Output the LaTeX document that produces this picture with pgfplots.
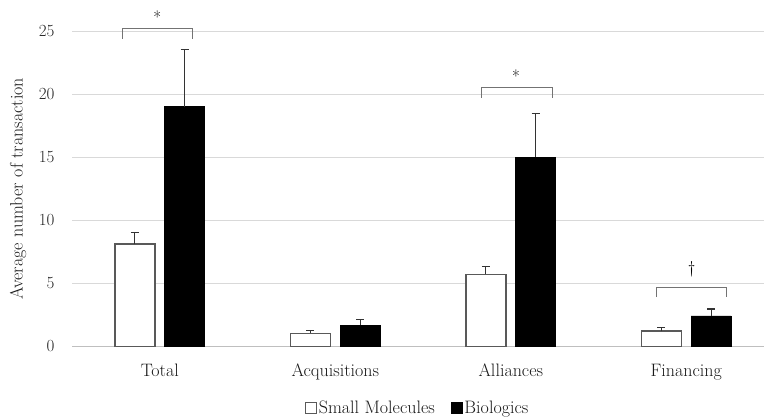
\documentclass[border=0pt]{standalone}
\usepackage{pgfplots}
\pgfplotsset{compat=1.18}
\begin{document}
\begin{tikzpicture}
\begin{axis}[
  scale only axis, width=691pt, height=315pt,
  xmin=-0.5, xmax=3.44, ymin=0, ymax=25,
  axis x line*=bottom, axis y line*=left,
  x axis line style={draw=black!25, line width=1pt, -},
  y axis line style={draw=none},
  ymajorgrids, grid style={black!15, line width=1pt},
  major tick length=0pt,
  ytick={0,5,10,15,20,25},
  xtick={0,1,2,3},
  xticklabels={Total,Acquisitions,Alliances,Financing},
  yticklabel style={font=\fontsize{17}{20}\selectfont, text=black!85, xshift=-14pt},
  xticklabel style={font=\fontsize{18}{21}\selectfont, text=black!90, yshift=-14pt},
  /pgf/number format/assume math mode=true,
  ylabel={Average number of transaction},
  every axis y label/.style={at={(axis description cs:0,0.5)}, xshift=-54pt, rotate=90, anchor=center},
  ylabel style={font=\fontsize{18}{21}\selectfont, text=black!90},
  clip=false,
  bar width=0.228,
  legend style={at={(0.5,-0.16)}, anchor=north, draw=none, font=\fontsize{18}{21}\selectfont, text=black!90, legend columns=2, /tikz/every even column/.append style={column sep=14pt}},
  legend image code/.code={\draw[#1, line width=0.6pt] (2pt,-5pt) rectangle (13pt,6pt);},
]
\addplot[ybar, bar shift=0pt, fill=white, draw=black!65, line width=1.3pt,
  error bars/.cd, y dir=plus, y explicit, error bar style={black!80, line width=1.1pt},
  error mark options={rotate=90, mark size=4pt, black!80, line width=1.1pt}]
  coordinates {(-0.142,8.1) +- (0,0.9) (0.858,1.03) +- (0,0.2) (1.858,5.7) +- (0,0.65) (2.858,1.2) +- (0,0.3)};
\addlegendentry{Small Molecules}
\addplot[ybar, bar shift=0pt, fill=black, draw=black, line width=0.5pt,
  error bars/.cd, y dir=plus, y explicit, error bar style={black!80, line width=1.1pt},
  error mark options={rotate=90, mark size=4pt, black!80, line width=1.1pt}]
  coordinates {(0.142,19.0) +- (0,4.5) (1.142,1.67) +- (0,0.45) (2.142,15.0) +- (0,3.45) (3.142,2.4) +- (0,0.55)};
\addlegendentry{Biologics}
% significance brackets
\addplot[black!55, line width=0.9pt, sharp plot, mark=none, forget plot] coordinates {(-0.215,24.4) (-0.215,25.2) (0.185,25.2) (0.185,24.4)};
\addplot[black!55, line width=0.9pt, sharp plot, mark=none, forget plot] coordinates {(1.83,19.7) (1.83,20.5) (2.235,20.5) (2.235,19.7)};
\addplot[black!55, line width=0.9pt, sharp plot, mark=none, forget plot] coordinates {(2.83,3.9) (2.83,4.7) (3.23,4.7) (3.23,3.9)};
\node[font=\fontsize{17}{20}\selectfont] at (axis cs:-0.015,26.1) {*};
\node[font=\fontsize{17}{20}\selectfont] at (axis cs:2.03,21.4) {*};
\node[font=\fontsize{17}{20}\selectfont] at (axis cs:3.03,6.1) {\dag};
\end{axis}
\path (current axis.north) ++(0,31pt);
\path (current axis.south west) ++(-72pt,0pt);
\end{tikzpicture}
\end{document}
